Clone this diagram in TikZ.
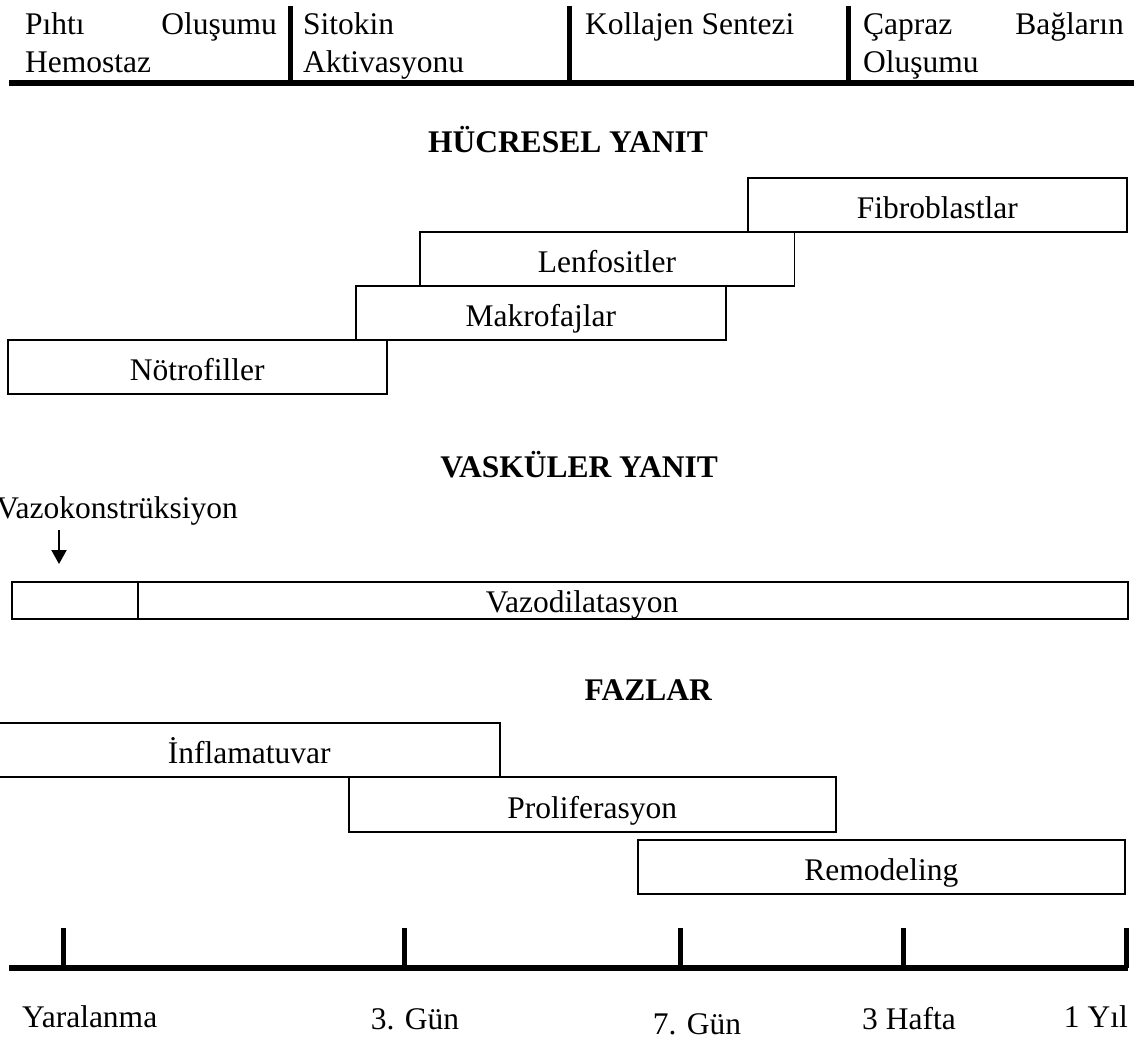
\documentclass[tikz,border=0pt]{standalone}
\usepackage{fontspec}
\setmainfont{Liberation Serif}
\usetikzlibrary{arrows.meta}
\begin{document}
\begin{tikzpicture}[x=1pt,y=-1pt,
  txt/.style={font=\fontsize{31.5}{36}\selectfont, inner sep=0pt},
  ttl/.style={inner sep=0pt, font=\fontsize{31.5}{36}\selectfont\bfseries},
  bar/.style={txt, draw, line width=1.6pt, anchor=south west,
              minimum height=54pt, text height=27pt, text depth=0pt},
  rule/.style={line width=5.5pt},
  tick/.style={line width=5pt}]
\useasboundingbox (0,0) rectangle (1134,1041);

% header row with its separators
\draw[rule] (9,83) -- (1134,83);
\foreach \x in {290,569,848} \draw[tick] (\x,6) -- (\x,83);
\node[txt,anchor=base west] (h1a) at (25,35) {Pıhtı};
\node[txt,anchor=base east] (h1b) at (277,35) {Oluşumu};
\node[txt,anchor=base west] (h1c) at (25,72) {Hemostaz};
\node[txt,anchor=base west] (h2a) at (303,35) {Sitokin};
\node[txt,anchor=base west] (h2b) at (303,72) {Aktivasyonu};
\node[txt,anchor=base west] (h3a) at (585,35) {Kollajen Sentezi};
\node[txt,anchor=base west] (h4a) at (863,35) {Çapraz};
\node[txt,anchor=base east] (h4b) at (1124,35) {Bağların};
\node[txt,anchor=base west] (h4c) at (863,72) {Oluşumu};

% cellular response
\node[ttl,anchor=base east] (tcell) at (708,152) {HÜCRESEL YANIT};
\node[bar, minimum width=379pt]   (fib) at (747,233) {Fibroblastlar};
\node[bar, minimum width=374.5pt] (len) at (419,287) {Lenfositler};
\node[bar, minimum width=370pt]   (mak) at (355,341) {Makrofajlar};
\node[bar, minimum width=379pt]   (not) at (7,395)   {Nötrofiller};

% vascular response
\node[ttl,anchor=base east] (tvas) at (718,477) {VASKÜLER YANIT};
\node[txt,anchor=base east] (vk) at (238,518) {Vazokonstrüksiyon};
\node[bar, minimum width=1116pt, minimum height=37pt] (vd) at (11,620) {};
\coordinate (vkTip) at (59,564);
\path (vk.south -| vkTip) ++(0,5) coordinate (vkFrom);
\draw[line width=2pt, -{Triangle[width=15pt,length=14pt]}] (vkFrom) -- (vkTip);
\draw[line width=1.6pt] (vd.north -| 138,0) -- (vd.south -| 138,0);
\node[txt,anchor=base] (vdt) at (582,612) {Vazodilatasyon};

% phases
\node[ttl,anchor=base east] (tfaz) at (712,700) {FAZLAR};
\node[bar, minimum width=501pt] (inf) at (-2,778) {İnflamatuvar};
\node[bar, minimum width=487pt, minimum height=55pt] (pro) at (348,833) {Proliferasyon};
\node[bar, minimum width=487pt] (rem) at (637,895) {Remodeling};

% time axis
\draw[rule] (9,968) -- (1128,968);
\foreach \x in {63,404,680,903,1126} \draw[tick] (\x,928) -- (\x,968);
\node[txt,anchor=base west] (t0) at (22,1027)  {Yaralanma};
\node[txt,anchor=base]      (t1) at (415,1029) {3. Gün};
\node[txt,anchor=base]      (t2) at (697,1034) {7. Gün};
\node[txt,anchor=base]      (t3) at (909,1029) {3 Hafta};
\node[txt,anchor=base east] (t4) at (1128,1027) {1 Yıl};
\end{tikzpicture}
\end{document}
